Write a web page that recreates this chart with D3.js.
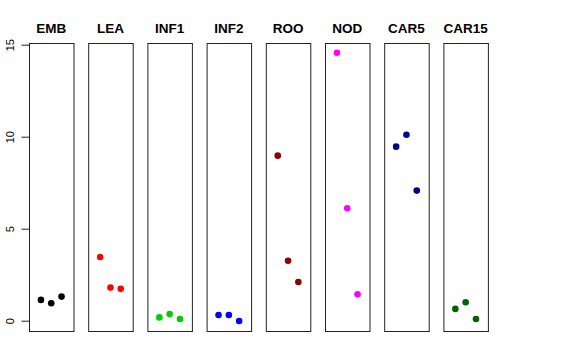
<!DOCTYPE html>
<html><head><meta charset="utf-8">
<script src="https://cdn.jsdelivr.net/npm/d3@7"></script>
<style>body{margin:0;background:#fff}svg{display:block}text{font-family:"Liberation Sans",Arial,Helvetica,sans-serif}</style>
</head><body>
<svg id="c" width="576" height="360"></svg>
<script>
const categories = ["EMB","LEA","INF1","INF2","ROO","NOD","CAR5","CAR15"];
const colors = ["#000000","#FF0000","#00CD00","#0000FF","#8B0000","#FF00FF","#00008B","#006400"];
const valEMB = [1.13, 0.95, 1.31];
const valLEA = [3.46, 1.80, 1.73];
const valINF1 = [0.18, 0.36, 0.09];
const valINF2 = [0.31, 0.31, -0.02];
const valROO = [8.97, 3.26, 2.10];
const valNOD = [14.56, 6.11, 1.44];
const valCAR5 = [9.46, 10.11, 7.07];
const valCAR15 = [0.64, 1.00, 0.09];
const yTicks = [0, 5, 10, 15];
const series = [valEMB, valLEA, valINF1, valINF2, valROO, valNOD, valCAR5, valCAR15];

const svg = d3.select("#c");
const boxTop = 43, boxBottom = 331;
const y = d3.scaleLinear().domain([0, 15]).range([320.7, 44.7]);
const panelX = d3.scaleBand().domain(categories).range([29, 29 + 59.2*8]).paddingInner(0).paddingOuter(0);
const pw = 44.5;
const xIn = d3.scaleLinear().domain([-0.16, 4.16]).range([0, pw]);

categories.forEach((cat, i) => {
  const g = svg.append("g").attr("transform", `translate(${panelX(cat)},0)`);
  g.append("text").attr("x", pw/2).attr("y", 33).attr("text-anchor","middle")
    .attr("font-weight","bold").attr("font-size", 13.5).text(cat);
  g.selectAll("circle").data(series[i]).join("circle")
    .attr("cx", (d, j) => xIn(j+1)).attr("cy", d => y(d)).attr("r", 3.3)
    .attr("fill", colors[i]);
  g.append("rect").attr("x", 0.5).attr("y", boxTop+0.5).attr("width", pw).attr("height", boxBottom-boxTop)
    .attr("fill","none").attr("stroke","#222").attr("stroke-width",1);
});

const ax = svg.append("g").attr("transform","translate(29.5,0)")
  .call(d3.axisLeft(y).tickValues(yTicks).tickSize(8).tickPadding(0).tickFormat(d3.format("d")));
ax.select(".domain").attr("d", `M0,${y(0)}V${y(15)}`).attr("stroke","#222");
ax.selectAll(".tick line").attr("stroke","#222");
ax.selectAll(".tick text").attr("font-size", 11).attr("fill","#000")
  .attr("x", 0).attr("dy", null)
  .attr("transform", "translate(-20,0) rotate(-90)")
  .attr("text-anchor","middle").attr("dominant-baseline","central");
ax.attr("font-family", null);
</script>
</body></html>
